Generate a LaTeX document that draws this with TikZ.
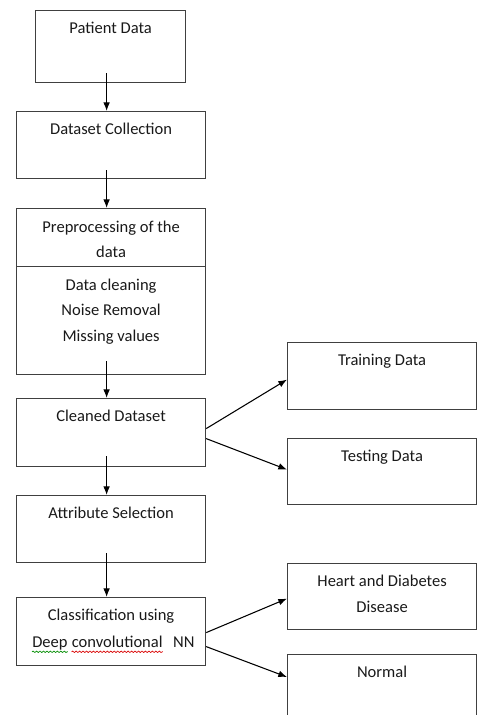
\documentclass[tikz,border=0pt]{standalone}
\usepackage{fontspec}
\setmainfont{Carlito}
\usetikzlibrary{positioning,arrows.meta,decorations.pathmorphing}

\tikzset{
  blk/.style={draw=black!75,line width=0.9pt,anchor=north west,inner sep=0pt,minimum width=141.75pt},
  lbl/.style={font=\fontsize{12.4}{19}\selectfont,text=black!90,align=center,inner sep=0pt},
  flow/.style={line width=0.8pt,-{Latex[length=6.5pt,width=5pt]}},
  wavy/.style={line width=0.5pt,decorate,decoration={snake,amplitude=0.55pt,segment length=2.6pt}}
}

\begin{document}
\begin{tikzpicture}[x=0.75pt,y=-0.75pt]
\useasboundingbox (0,0) rectangle (477,715);
\clip (0,0) rectangle (477,715);

% left column
\node[blk,minimum width=112.5pt,minimum height=54pt] (pat) at (35,10) {};
\node[blk,minimum height=50.25pt] (dsc) at (16,111) {};
\node[blk,minimum height=43.5pt] (preA) at (16,208) {};
\node[blk,minimum height=81pt] (preB) at (16,266) {};
\node[blk,minimum height=51pt] (cln) at (16,398) {};
\node[blk,minimum height=50.25pt] (att) at (16,495) {};
\node[blk,minimum height=51pt] (cls) at (16,597) {};

% right column
\node[blk,minimum height=50.25pt] (trn) at (287,342) {};
\node[blk,minimum height=49.5pt] (tst) at (287,438) {};
\node[blk,minimum height=49.5pt] (hrt) at (287,563) {};
\node[blk,minimum height=60pt] (nrm) at (287,654) {};

% texts
\node[lbl,below=9pt of pat.north] (patT) {Patient Data};
\node[lbl,below=9pt of dsc.north] (dscT) {Dataset Collection};
\node[lbl,below=9.5pt of preA.north] (preAT) {Preprocessing of the\\data};
\node[lbl,below=9.5pt of preB.north] (preBT) {Data cleaning\\Noise Removal\\Missing values};
\node[lbl,below=9pt of cln.north] (clnT) {Cleaned Dataset};
\node[lbl,below=9pt of att.north] (attT) {Attribute Selection};
\node[lbl,below=9pt of cls.north] (clsA) {Classification using};
\node[lbl,anchor=base west] (clsB) at (32,647) {Deep};
\node[lbl,base right=2.8pt of clsB] (clsC) {convolutional};
\node[lbl,base right=7.5pt of clsC] (clsD) {NN};
\node[lbl,below=9pt of trn.north] (trnT) {Training Data};
\node[lbl,below=9pt of tst.north] (tstT) {Testing Data};
\node[lbl,below=9pt of hrt.north] (hrtT) {Heart and Diabetes\\Disease};
\node[lbl,below=9pt of nrm.north] (nrmT) {Normal};

% spelling marks
\draw[wavy,green!55!black] ([yshift=-3.6pt]clsB.base west) -- ([yshift=-3.6pt]clsB.base east);
\draw[wavy,red!85!black] ([yshift=-3.6pt]clsC.base west) -- ([yshift=-3.6pt]clsC.base east);

% flow down
\draw[flow] ([shift={(-4,-10)}]pat.south) -- ([shift={(-4.5,0)}]dsc.north);
\draw[flow] ([shift={(-4.5,-9)}]dsc.south) -- ([shift={(-4.5,0)}]preA.north);
\draw[flow] ([shift={(-4.5,-14)}]preB.south) -- ([shift={(-4.5,0)}]cln.north);
\draw[flow] ([shift={(-4.5,-11)}]cln.south) -- ([shift={(-4.5,0)}]att.north);
\draw[flow] ([shift={(-4.5,-10)}]att.south) -- ([shift={(-4.5,0)}]cls.north);

% branches
\draw[flow] ([shift={(0,-4)}]cln.east) -- ([shift={(0,3.5)}]trn.west);
\draw[flow] ([shift={(0,6)}]cln.east) -- ([shift={(0,-2)}]tst.west);
\draw[flow] ([shift={(0,1)}]cls.east) -- ([shift={(0,2)}]hrt.west);
\draw[flow] ([shift={(0,15)}]cls.east) -- ([shift={(0,23)}]nrm.north west);
\end{tikzpicture}
\end{document}
